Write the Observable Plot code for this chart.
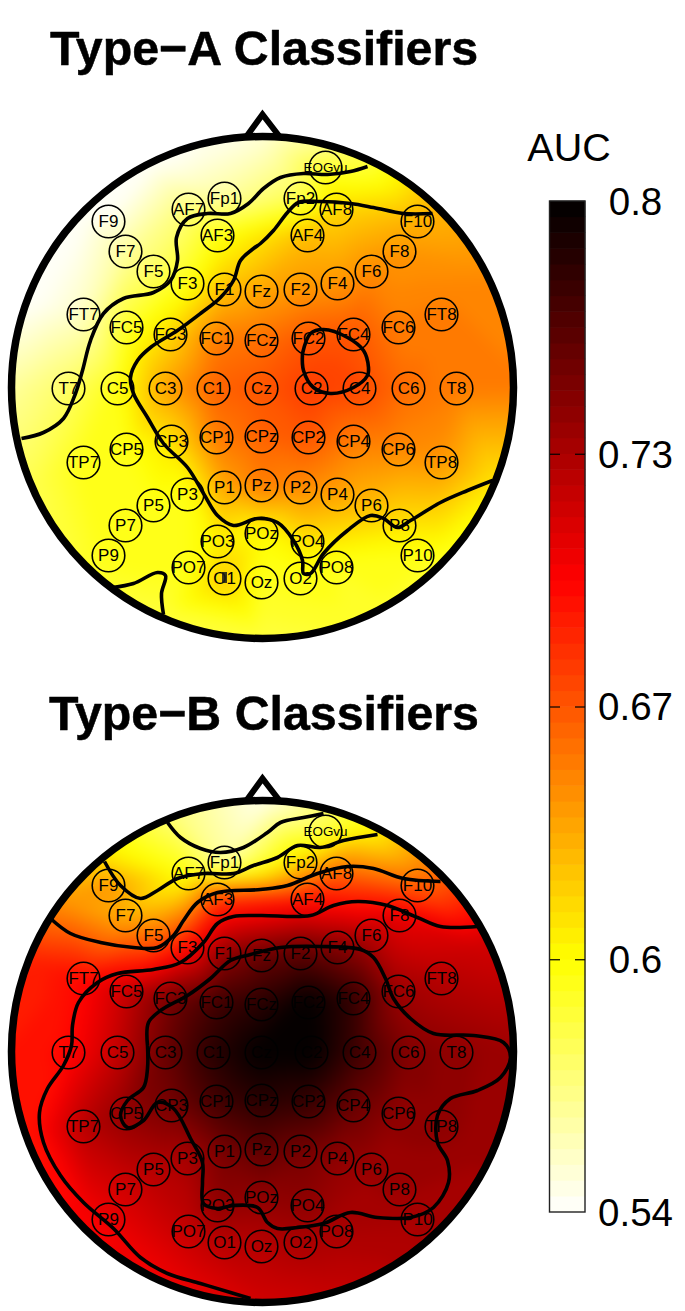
<!DOCTYPE html>
<html><head><meta charset="utf-8">
<script src="https://cdn.jsdelivr.net/npm/d3@7"></script>
<script src="https://cdn.jsdelivr.net/npm/@observablehq/plot@0.6"></script>
<style>html,body{margin:0;padding:0;background:#fff}svg{display:block}</style>
</head><body><div id="chart"></div>
<script>
const channels = ["F9","F7","F5","F3","F1","Fz","F2","F4","F6","F8","F10","AF7","Fp1","AF3","Fp2","AF8","AF4","EOGvu","FT7","FC5","FC3","FC1","FCz","FC2","FC4","FC6","FT8","T7","C5","C3","C1","Cz","C2","C4","C6","T8","TP7","CP5","CP3","CP1","CPz","CP2","CP4","CP6","TP8","P9","P7","P5","P3","P1","Pz","P2","P4","P6","P8","P10","PO7","PO3","POz","PO4","PO8","O1","Oz","O2"];
const channelX = [108,125,153,187,224,261,300,337,371,399,417,188,224,217,300,336,307,325,83,126,170,216,261,308,353,398,441,68,117,165,213,261,311,359,408,456,83,126,171,216,261,308,353,398,441,108,125,153,187,224,261,300,337,371,399,417,188,217,261,307,336,224,261,300];
const channelY = [221,251,271,283,289,291,289,283,271,251,221,209,198,235,198,209,235,167,314,327,334,338,340,338,334,327,314,388,388,388,388,388,388,388,388,388,462,449,441,437,436,437,441,449,462,555,525,505,494,487,485,487,494,505,525,555,567,541,533,541,567,578,582,578];
const aucA = [.545,.565,.58,.60,.63,.64,.645,.645,.65,.645,.635,.575,.565,.60,.585,.62,.63,.595,.555,.595,.62,.655,.66,.67,.67,.655,.655,.58,.60,.64,.665,.67,.68,.675,.66,.655,.60,.60,.615,.655,.665,.67,.655,.65,.645,.60,.60,.60,.60,.64,.655,.65,.64,.63,.615,.60,.60,.61,.605,.615,.597,.625,.597,.60];
const aucB = [.645,.635,.66,.70,.745,.76,.765,.75,.73,.71,.665,.60,.565,.68,.62,.665,.695,.59,.70,.725,.755,.775,.785,.80,.78,.74,.73,.70,.725,.76,.785,.80,.80,.775,.75,.745,.73,.745,.755,.775,.785,.78,.76,.745,.745,.71,.72,.73,.735,.755,.765,.755,.745,.74,.74,.735,.725,.745,.745,.745,.735,.73,.73,.735];
const rimA = [[262,136,.55],[367,165,.59],[430,195,.63],[490,280,.65],[513,387,.655],[495,480,.615],[440,565,.595],[360,620,.595],[262,636,.59],[160,615,.59],[90,570,.595],[30,480,.585],[11,387,.565],[30,300,.54],[80,210,.54],[150,160,.54]];
const rimB = [[262,800,.545],[360,825,.60],[425,870,.655],[480,945,.72],[513,1051,.74],[490,1150,.74],[420,1240,.735],[340,1290,.725],[262,1300,.72],[180,1285,.71],[90,1220,.705],[30,1130,.695],[11,1051,.695],[30,960,.69],[60,900,.645],[100,855,.615],[170,815,.575]];
const shiftB = 664;
const contoursA = [
 [[21,438],[43,432],[63,418],[75,393],[82,370],[90,340],[103,313],[123,298],[153,292],[170,280],[177,260],[176,237],[187,218],[207,213],[230,213],[248,203],[263,188],[280,177],[303,173],[327,174],[350,171],[367,166]],
 [[432,213],[403,213],[373,207],[350,203],[320,201],[298,202],[287,212],[273,230],[260,243],[253,248],[240,260],[233,280],[220,297],[200,313],[177,330],[150,347],[137,360],[130,377],[133,393],[147,417],[163,443],[187,467],[203,493],[217,515],[233,525],[257,518],[277,522],[293,540],[302,560],[303,573],[310,573],[323,553],[347,530],[370,515],[383,518],[397,527],[410,520],[440,502],[467,490],[492,480]],
 [[302,353],[310,333],[323,329],[347,337],[363,350],[368,367],[367,375],[353,387],[330,393],[313,387],[303,370],[302,353]],
 [[112,587],[133,583],[157,572],[165,575],[161,593],[163,614]]
];
const contoursB = [
 [[167,822],[180,837],[200,848],[220,852],[243,847],[267,832],[280,822],[303,817],[323,813]],
 [[104,861],[120,885],[140,898],[157,890],[177,878],[203,873],[233,873],[253,865],[277,857],[297,845],[320,847],[343,840],[377,834]],
 [[50,918],[70,933],[100,942],[133,947],[157,947],[173,935],[183,920],[197,902],[217,892],[260,889],[287,885],[317,873],[347,866],[373,868],[403,878],[440,881]],
 [[477,926],[440,926],[417,917],[387,905],[357,901],[333,905],[310,915],[260,915],[233,916],[217,923],[203,942],[180,962],[153,969],[117,973],[97,982],[78,1002],[72,1025],[71,1045],[63,1065],[47,1088],[39,1112],[43,1142],[60,1175],[83,1202],[113,1228],[140,1257],[167,1273],[200,1283],[230,1292],[250,1298]],
 [[147,1045],[148,1022],[160,1010],[187,995],[210,978],[230,960],[250,954],[280,947],[320,946],[360,949],[373,957],[385,978],[393,998],[410,1018],[433,1033],[473,1035],[503,1042],[510,1057],[500,1077],[477,1090],[450,1098],[437,1115],[437,1142],[447,1160],[448,1182],[433,1207],[410,1217],[377,1217],[350,1212],[323,1223],[297,1227],[277,1228],[267,1222],[257,1207],[233,1205],[217,1208],[203,1203],[202,1182],[202,1162],[190,1138],[173,1108],[157,1102],[143,1120],[127,1127],[120,1115],[127,1100],[143,1087],[147,1068],[147,1045]]
];
const tickValues = [.54,.605,.67,.735,.8];
const tickLabels = ["0.54","0.6","0.67","0.73","0.8"];
const titles = ["Type\u2212A Classifiers","Type\u2212B Classifiers"];

const A = channels.map((name,i)=>({name,x:channelX[i],y:channelY[i],v:aucA[i]}));
const B = channels.map((name,i)=>({name,x:channelX[i],y:channelY[i]+shiftB,v:aucB[i]}));
const sampleA = A.concat(rimA.map(([x,y,v])=>({x,y,v})));
const sampleB = B.concat(rimB.map(([x,y,v])=>({x,y,v})));
const lines = (sets,panel)=>sets.flatMap((pts,id)=>pts.map(([x,y])=>({x,y,id:panel+id})));

const ramp = d3.scaleLinear([.54,.605,.7025,.8],["#ffffff","#ffff00","#ff0000","#000000"]);
const nLevels = 64, bar = d3.scaleLinear([.54,.8],[1212,201]);
const levelEdges = d3.range(nLevels+1).map(k=>.54+k*(.26/nLevels));
const levelColors = d3.range(nLevels).map(k=>ramp((levelEdges[k]+levelEdges[k+1])/2));
const levels = d3.range(nLevels).map(k=>({a:levelEdges[k],b:levelEdges[k+1],v:(levelEdges[k]+levelEdges[k+1])/2}));

const head = [{x:262,y:387,id:"headA"},{x:262,y:387+shiftB,id:"headB"}];
const nose = head.flatMap(h=>[[-16,-251],[0,-273],[17,-251]].map(([dx,dy])=>({x:h.x+dx,y:h.y+dy,id:h.id})));
const font = "Liberation Sans, Arial, sans-serif";
const clipTo = id => (index,scales,values,dims,ctx,next)=>{
  const g = next(index,scales,values,dims,ctx);
  g.setAttribute("clip-path",`url(#${id})`);
  return g;
};
const electrodes = d => [
  Plot.dot(d,{x:"x",y:"y",r:16.3,stroke:"#000",strokeWidth:1.6,fill:"none"}),
  Plot.text(d,{x:"x",y:"y",text:"name",fontSize:n=>n.name==="EOGvu"?13.4:17,fill:"#000",fontFamily:font})
];
const chart = Plot.plot({
  width:685,height:1311,margin:0,
  x:{domain:[0,685],range:[0,685],axis:null},
  y:{domain:[0,1311],range:[0,1311],axis:null},
  color:{type:"threshold",domain:levelEdges.slice(1,-1),range:levelColors},
  style:{background:"#fff",fontFamily:font},
  marks:[
    Plot.raster(sampleA,{x:"x",y:"y",fill:"v",interpolate:"barycentric",x1:5,x2:520,y1:130,y2:642,pixelSize:1,blur:7,imageRendering:"auto",render:clipTo("headA")}),
    Plot.raster(sampleB,{x:"x",y:"y",fill:"v",interpolate:"barycentric",x1:5,x2:520,y1:794,y2:1306,pixelSize:1,blur:7,imageRendering:"auto",render:clipTo("headB")}),
    ...electrodes(A),
    ...electrodes(B),
    Plot.rect([0],{x1:222,x2:227,y1:572,y2:583,fill:"#1a1a1a",opacity:0.85}),
    Plot.line(lines(contoursA,"a").concat(lines(contoursB,"b")),{x:"x",y:"y",z:"id",stroke:"#000",strokeWidth:3.6,curve:"catmull-rom",strokeLinecap:"butt"}),
    Plot.line(nose,{x:"x",y:"y",z:"id",stroke:"#000",strokeWidth:6,strokeLinejoin:"miter",strokeMiterlimit:10}),
    Plot.dot(head,{x:"x",y:"y",r:251,stroke:"#000",strokeWidth:7.5,fill:"none"}),
    Plot.rect(levels,{x1:550,x2:585,y1:d=>bar(d.a),y2:d=>bar(d.b),fill:"v",inset:-0.3}),
    Plot.rect([0],{x1:549.5,x2:585,y1:201,y2:1212,fill:"none",stroke:"#222",strokeWidth:1.4}),
    Plot.ruleY(tickValues.slice(1,-1),{y:d=>bar(d),x1:550,x2:560,stroke:"#000",strokeWidth:1.2}),
    Plot.ruleY(tickValues.slice(1,-1),{y:d=>bar(d),x1:575,x2:585,stroke:"#000",strokeWidth:1.2}),
    Plot.text(tickValues,{x:635,y:d=>bar(d)+1,text:(d,i)=>tickLabels[i],fontSize:38.5,fill:"#000",fontFamily:font}),
    Plot.text(["AUC"],{x:568.5,y:148,text:d=>d,fontSize:39.5,fill:"#000",fontFamily:font}),
    Plot.text(titles,{x:263.5,y:(d,i)=>i?714:49,text:d=>d,fontSize:48.3,fontWeight:"bold",fill:"#000",stroke:"#000",strokeWidth:0.5,fontFamily:font})
  ]
});
const ns = "http://www.w3.org/2000/svg";
const defs = document.createElementNS(ns,"defs");
head.forEach(h=>{
  const cp = document.createElementNS(ns,"clipPath"); cp.setAttribute("id",h.id);
  const c = document.createElementNS(ns,"circle");
  c.setAttribute("cx",chart.scale("x").apply(h.x));
  c.setAttribute("cy",chart.scale("y").apply(h.y));
  c.setAttribute("r",251);
  cp.appendChild(c); defs.appendChild(cp);
});
chart.insertBefore(defs,chart.firstChild);
document.getElementById("chart").appendChild(chart);
</script></body></html>
